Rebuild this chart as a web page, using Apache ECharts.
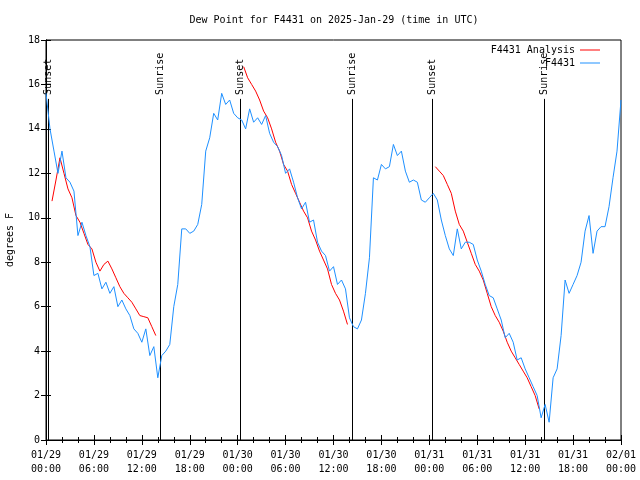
<!DOCTYPE html>
<html>
<head>
<meta charset="utf-8">
<script src="https://cdn.jsdelivr.net/npm/echarts@6/dist/echarts.min.js"></script>
<style>html,body{margin:0;padding:0;background:#fff}#c{width:640px;height:480px}</style>
</head>
<body>
<div id="c"></div>
<script>
// Hours since 2025-01-29 00:00 UTC
const obsStartHour = 0;
const obsStepHours = 0.5;
const dewPoint = [15.6, 14.0, 13.0, 12.0, 13.0, 11.8, 11.6, 11.2, 9.2, 9.8,
 9.2, 8.7, 7.4, 7.5, 6.8, 7.1, 6.6, 6.9, 6.0, 6.3,
 5.9, 5.6, 5.0, 4.8, 4.4, 5.0, 3.8, 4.2, 2.8, 3.8,
 4.0, 4.3, 6.0, 7.0, 9.5, 9.5, 9.3, 9.4, 9.7, 10.6,
 13.0, 13.6, 14.7, 14.4, 15.6, 15.1, 15.3, 14.7, 14.5, 14.4,
 14.0, 14.9, 14.3, 14.5, 14.2, 14.6, 13.8, 13.4, 13.2, 12.8,
 12.0, 12.2, 11.6, 10.9, 10.4, 10.7, 9.8, 9.9, 8.9, 8.5,
 8.3, 7.6, 7.8, 7.0, 7.2, 6.8, 5.5, 5.1, 5.0, 5.4,
 6.6, 8.2, 11.8, 11.7, 12.4, 12.2, 12.3, 13.3, 12.8, 13.0,
 12.1, 11.6, 11.7, 11.6, 10.8, 10.7, 10.9, 11.1, 10.8, 9.9,
 9.2, 8.6, 8.3, 9.5, 8.6, 8.9, 8.9, 8.8, 8.1, 7.6,
 7.0, 6.5, 6.4, 5.9, 5.4, 4.6, 4.8, 4.4, 3.6, 3.7,
 3.2, 2.8, 2.4, 2.0, 1.0, 1.6, 0.8, 2.8, 3.2, 4.7,
 7.2, 6.6, 7.0, 7.4, 8.0, 9.4, 10.1, 8.4, 9.4, 9.6,
 9.6, 10.5, 11.8, 13.0, 15.3];

const analysisStepHours = 0.5;
const analysisStarts = [0.75, 24.75, 48.75];
const analysisSeg1 = [10.75, 11.7, 12.7, 12.0, 11.3, 10.9, 10.1, 9.8, 9.3, 8.8, 8.6, 8.0, 7.6, 7.9, 8.05, 7.7, 7.3, 6.9, 6.6, 6.4, 6.2, 5.9, 5.6, 5.55, 5.5, 5.1, 4.7];
const analysisSeg2 = [16.8, 16.3, 16.0, 15.7, 15.3, 14.8, 14.5, 14.0, 13.4, 13.0, 12.4, 12.1, 11.5, 11.1, 10.7, 10.3, 10.0, 9.4, 9.0, 8.5, 8.1, 7.7, 7.0, 6.6, 6.3, 5.8, 5.2];
const analysisSeg3 = [12.3, 12.1, 11.9, 11.5, 11.1, 10.3, 9.7, 9.4, 8.9, 8.4, 7.9, 7.6, 7.2, 6.6, 6.0, 5.6, 5.3, 4.9, 4.4, 4.0, 3.7, 3.4, 3.1, 2.8, 2.4, 2.0, 1.4];

const eventHours = [0.2, 14.33, 24.35, 38.37, 48.35, 62.4];
const eventNames = ['Sunset', 'Sunrise', 'Sunset', 'Sunrise', 'Sunset', 'Sunrise'];
const eventLineTop = 15.35;

const xTickLabels = ['01/29\n00:00','01/29\n06:00','01/29\n12:00','01/29\n18:00',
  '01/30\n00:00','01/30\n06:00','01/30\n12:00','01/30\n18:00',
  '01/31\n00:00','01/31\n06:00','01/31\n12:00','01/31\n18:00','02/01\n00:00'];
const yTicks = [0, 2, 4, 6, 8, 10, 12, 14, 16, 18];

const FONT = '"DejaVu Sans Mono", "Liberation Mono", monospace';

const obsData = dewPoint.map((v, i) => [obsStartHour + i * obsStepHours, v]);
const anaData = [];
[analysisSeg1, analysisSeg2, analysisSeg3].forEach((seg, s) => {
  seg.forEach((v, i) => anaData.push([analysisStarts[s] + i * analysisStepHours, v]));
  anaData.push([analysisStarts[s] + seg.length * analysisStepHours, null]);
});

const chart = echarts.init(document.getElementById('c'), null, {renderer: 'canvas'});
const tickBase = {show: true, inside: true, length: 5, lineStyle: {color: '#000', width: 1}};
const xCommon = {
  type: 'value', min: 0, max: 72, interval: 6,
  axisLine: {show: true, lineStyle: {color: '#000', width: 1}},
  splitLine: {show: false},
  axisTick: tickBase,
  minorTick: {show: true, splitNumber: 3, length: 3, lineStyle: {color: '#000', width: 1}},
};
const yCommon = {
  type: 'value', min: yTicks[0], max: yTicks[yTicks.length - 1], interval: 2,
  axisLine: {show: true, lineStyle: {color: '#000', width: 1}},
  splitLine: {show: false},
  axisTick: tickBase,
};
chart.setOption({
  animation: false,
  backgroundColor: '#fff',
  title: {
    text: 'Dew Point for F4431 on 2025-Jan-29 (time in UTC)',
    left: 329, top: 10, textAlign: 'center',
    textStyle: {fontFamily: FONT, fontSize: 10, fontWeight: 'normal', color: '#000'}
  },
  legend: [
    {data: ['F4431 Analysis'], right: 40, top: 45, orient: 'vertical', align: 'right', padding: 0,
     icon: 'rect', itemWidth: 20, itemHeight: 1,
     textStyle: {fontFamily: FONT, fontSize: 10, color: '#000'}},
    {data: ['F4431'], right: 40, top: 58, orient: 'vertical', align: 'right', padding: 0,
     icon: 'rect', itemWidth: 20, itemHeight: 1,
     textStyle: {fontFamily: FONT, fontSize: 10, color: '#000'}}
  ],
  grid: {left: 46, right: 19, top: 40, bottom: 40, containLabel: false, outerBoundsMode: 'none',
         show: true, borderColor: '#000', borderWidth: 1, backgroundColor: 'transparent'},
  xAxis: [
    Object.assign({}, xCommon, {
      position: 'bottom',
      axisLabel: {fontFamily: FONT, fontSize: 10, color: '#000', margin: 8, lineHeight: 14,
        formatter: v => xTickLabels[Math.round(v / 6)]}
    }),
    Object.assign({}, xCommon, {position: 'top', axisLabel: {show: false}})
  ],
  yAxis: [
    Object.assign({}, yCommon, {
      position: 'left',
      name: 'degrees F', nameLocation: 'middle', nameGap: 31, nameRotate: 90,
      nameTextStyle: {fontFamily: FONT, fontSize: 10, color: '#000'},
      axisLabel: {fontFamily: FONT, fontSize: 10, color: '#000', margin: 6}
    }),
    Object.assign({}, yCommon, {position: 'right', axisLabel: {show: false}})
  ],
  series: [
    {
      type: 'custom', name: 'events', xAxisIndex: 0, yAxisIndex: 0, silent: true, clip: false, z: 1,
      data: eventHours.map(h => [h, 0]),
      encode: {x: 0, y: 1},
      renderItem: (params, api) => {
        const h = api.value(0);
        const p0 = api.coord([h, 0]);
        const p1 = api.coord([h, eventLineTop]);
        const x = Math.round(p0[0]) + 0.5;
        return {type: 'group', children: [
          {type: 'line', shape: {x1: x, y1: p0[1], x2: x, y2: p1[1]}, style: {stroke: '#000', lineWidth: 1}},
          {type: 'text', x: x, y: p1[1] - 4, rotation: Math.PI / 2,
           style: {text: eventNames[params.dataIndex], fill: '#000', font: '10px ' + FONT, align: 'left', verticalAlign: 'middle'}}
        ]};
      }
    },
    {
      type: 'line', name: 'F4431 Analysis', data: anaData, showSymbol: false, symbol: 'none',
      connectNulls: false, color: '#ff0000', lineStyle: {color: '#ff0000', width: 1}, z: 2
    },
    {
      type: 'line', name: 'F4431', data: obsData, showSymbol: false, symbol: 'none',
      color: '#1e90ff', lineStyle: {color: '#1e90ff', width: 1}, z: 3
    }
  ]
});
</script>
</body>
</html>
